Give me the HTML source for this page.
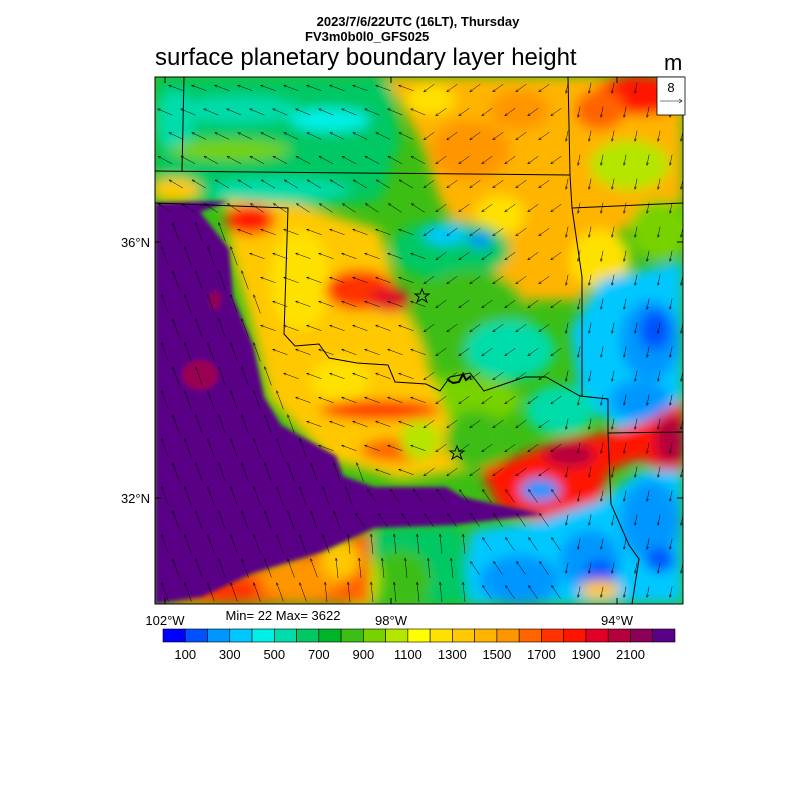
<!DOCTYPE html>
<html><head><meta charset="utf-8"><style>
html,body{margin:0;padding:0;background:#fff;width:800px;height:800px;overflow:hidden}
svg{position:absolute;left:0;top:0}
text{font-family:"Liberation Sans",sans-serif}
</style></head><body>
<svg id="s" width="800" height="800" viewBox="0 0 800 800">
<defs>
<clipPath id="mc"><rect x="155" y="77" width="528" height="527"/></clipPath>
<filter id="bl" x="-10%" y="-10%" width="120%" height="120%"><feGaussianBlur stdDeviation="6"/></filter>
<filter id="bl2"><feGaussianBlur stdDeviation="2"/></filter>
</defs>
<text x="418" y="26" font-size="13" font-weight="bold" text-anchor="middle">2023/7/6/22UTC (16LT), Thursday</text>
<text x="305" y="41" font-size="13" font-weight="bold">FV3m0b0l0_GFS025</text>
<text x="155" y="65" font-size="24">surface planetary boundary layer height</text>
<text x="664" y="70" font-size="22">m</text>
<g clip-path="url(#mc)">
<rect x="155" y="77" width="528" height="527" fill="#3cbe14"/>
<g filter="url(#bl)">
<polygon points="155,77 390,77 400,140 380,200 300,210 155,200" fill="#00c864"/>
<ellipse cx="240" cy="110" rx="60" ry="14" fill="#00dcaa"/>
<ellipse cx="330" cy="120" rx="40" ry="12" fill="#00f0e6"/>
<ellipse cx="280" cy="190" rx="70" ry="12" fill="#00dcaa"/>
<ellipse cx="175" cy="120" rx="20" ry="30" fill="#00dcaa"/>
<ellipse cx="230" cy="150" rx="60" ry="10" fill="#78d200"/>
<ellipse cx="175" cy="190" rx="25" ry="12" fill="#ffc800"/>
<polygon points="385,77 683,77 683,200 620,230 580,300 520,300 470,250 440,200 420,140" fill="#ffb400"/>
<ellipse cx="470" cy="150" rx="40" ry="30" fill="#ff9600"/>
<ellipse cx="640" cy="95" rx="45" ry="20" fill="#ff1400"/>
<ellipse cx="600" cy="110" rx="25" ry="20" fill="#ff6400"/>
<ellipse cx="520" cy="110" rx="30" ry="20" fill="#ff9600"/>
<ellipse cx="430" cy="100" rx="25" ry="15" fill="#ffe100"/>
<ellipse cx="500" cy="215" rx="25" ry="20" fill="#ffe100"/>
<ellipse cx="630" cy="165" rx="40" ry="25" fill="#b4e600"/>
<ellipse cx="660" cy="230" rx="30" ry="30" fill="#78d200"/>
<ellipse cx="600" cy="260" rx="30" ry="30" fill="#ffe100"/>
<ellipse cx="450" cy="250" rx="60" ry="30" fill="#00c864"/>
<ellipse cx="445" cy="235" rx="22" ry="10" fill="#00c8ff"/>
<ellipse cx="480" cy="240" rx="12" ry="8" fill="#0096ff"/>
<ellipse cx="470" cy="320" rx="60" ry="50" fill="#3cbe14"/>
<ellipse cx="510" cy="350" rx="45" ry="30" fill="#00dcaa"/>
<ellipse cx="460" cy="400" rx="60" ry="25" fill="#78d200"/>
<polygon points="225,200 300,205 380,230 400,300 420,340 440,400 470,470 400,480 330,460 270,400 250,320 230,250" fill="#ffc800"/>
<ellipse cx="300" cy="280" rx="30" ry="50" fill="#ffe100"/>
<ellipse cx="360" cy="290" rx="35" ry="20" fill="#ff3200"/>
<ellipse cx="390" cy="300" rx="20" ry="12" fill="#e10028"/>
<ellipse cx="380" cy="410" rx="60" ry="10" fill="#ff3200"/>
<ellipse cx="400" cy="450" rx="40" ry="12" fill="#ff6400"/>
<ellipse cx="420" cy="440" rx="20" ry="20" fill="#b4e600"/>
<ellipse cx="340" cy="380" rx="30" ry="20" fill="#ffe100"/>
<ellipse cx="250" cy="220" rx="25" ry="15" fill="#ff1400"/>
<ellipse cx="475" cy="440" rx="30" ry="30" fill="#3cbe14"/>
<polygon points="600,280 683,260 683,420 620,430 580,400 570,330" fill="#00c8ff"/>
<ellipse cx="650" cy="340" rx="30" ry="40" fill="#0096ff"/>
<ellipse cx="655" cy="330" rx="15" ry="20" fill="#0050ff"/>
<ellipse cx="640" cy="400" rx="30" ry="20" fill="#0096ff"/>
<ellipse cx="560" cy="410" rx="35" ry="25" fill="#00dcaa"/>
<polygon points="480,470 560,440 620,430 650,420 683,400 683,480 640,460 610,470 600,500 580,530 540,520 500,510" fill="#ff1400"/>
<ellipse cx="570" cy="455" rx="25" ry="12" fill="#b4003c"/>
<ellipse cx="670" cy="440" rx="15" ry="25" fill="#b4003c"/>
<polygon points="470,530 540,520 600,500 640,470 683,470 683,604 460,604" fill="#00c8ff"/>
<ellipse cx="520" cy="580" rx="40" ry="25" fill="#0096ff"/>
<ellipse cx="590" cy="560" rx="30" ry="30" fill="#0096ff"/>
<ellipse cx="650" cy="520" rx="30" ry="40" fill="#0096ff"/>
<ellipse cx="600" cy="575" rx="15" ry="15" fill="#0050ff"/>
<ellipse cx="660" cy="560" rx="15" ry="12" fill="#0050ff"/>
<ellipse cx="540" cy="490" rx="20" ry="12" fill="#0096ff"/>
<ellipse cx="600" cy="590" rx="20" ry="10" fill="#ffc800"/>
<polygon points="370,530 460,525 470,604 360,604" fill="#00c864"/>
<ellipse cx="400" cy="580" rx="30" ry="30" fill="#3cbe14"/>
<ellipse cx="360" cy="580" rx="20" ry="30" fill="#b4e600"/>
<polygon points="155,604 250,570 330,545 370,530 370,604" fill="#ff6400"/>
<ellipse cx="300" cy="580" rx="40" ry="20" fill="#ff9600"/>
<ellipse cx="340" cy="560" rx="20" ry="20" fill="#ffc800"/>
<ellipse cx="230" cy="590" rx="30" ry="12" fill="#ff3200"/>
</g>
<g filter="url(#bl2)">
<polygon points="155,203 229,201 200,212 229,249 233,297 253,345 264,397 281,425 336,456 343,476 374,487 446,487 463,497 494,504 543,514 453,525 374,528 322,552 253,573 202,597 155,604" fill="#5a0087"/>
<ellipse cx="200" cy="375" rx="18" ry="15" fill="#b4003c" opacity="0.7"/>
<ellipse cx="215" cy="300" rx="6" ry="10" fill="#b4003c" opacity="0.6"/>
</g>
<g id="arr" stroke="#000" stroke-width="0.5" fill="none"></g>
<g stroke="#000" stroke-width="1" fill="none">
<polyline points="155,171 570,175"/>
<polyline points="184,77 182,171"/>
<polyline points="155,203 288,208 284,334 295,346 319,344 329,358 357,363 388,365 395,382 426,384 440,391 450,377 470,373 484,391 525,377 546,377 580,396 608,399 608,433 611,504 629,545 639,559 632,604"/>
<polyline points="568,77 570,175 572,208 582,277 582,396"/>
<polyline points="608,433 683,432"/>
<polyline points="572,208 683,203"/>
<path d="M448,380 l5,3 l6,-1 l4,-8 l3,6 l5,-4" stroke-width="2"/>
</g>
<g fill="none" stroke="#000" stroke-width="1">
<polygon points="422,289 424,294 429,294 425,297 427,302 422,299 417,302 419,297 415,294 420,294"/>
<polygon points="457,446 459,451 464,451 460,454 462,459 457,456 452,459 454,454 450,451 455,451"/>
</g>
</g>
<rect x="155" y="77" width="528" height="527" fill="none" stroke="#000" stroke-width="1"/>
<rect x="657" y="77" width="28" height="38" fill="#fff" stroke="#000" stroke-width="0.8"/>
<text x="671" y="92" font-size="13" text-anchor="middle">8</text>
<line x1="660" y1="101" x2="682" y2="101" stroke="#000" stroke-width="0.6"/>
<path d="M679,99 L682,101 L679,103" stroke="#000" stroke-width="0.6" fill="none"/>
<g stroke="#000" stroke-width="1">
<line x1="155" y1="242" x2="161" y2="242"/><line x1="155" y1="498" x2="161" y2="498"/>
<line x1="683" y1="242" x2="677" y2="242"/><line x1="683" y1="498" x2="677" y2="498"/>
<line x1="165" y1="604" x2="165" y2="598"/><line x1="391" y1="604" x2="391" y2="598"/><line x1="617" y1="604" x2="617" y2="598"/>
<line x1="165" y1="77" x2="165" y2="83"/><line x1="391" y1="77" x2="391" y2="83"/><line x1="617" y1="77" x2="617" y2="83"/>
</g>
<text x="150" y="247" font-size="13" text-anchor="end">36°N</text>
<text x="150" y="503" font-size="13" text-anchor="end">32°N</text>
<text x="165" y="625" font-size="13" text-anchor="middle">102°W</text>
<text x="391" y="625" font-size="13" text-anchor="middle">98°W</text>
<text x="617" y="625" font-size="13" text-anchor="middle">94°W</text>
<text x="283" y="620" font-size="13" text-anchor="middle">Min= 22 Max= 3622</text>
<g id="cb" stroke="#000" stroke-width="0.6"></g>
<g font-size="13" text-anchor="middle" id="cbl"></g>
</svg>
<script>
var cols=["#0000ff","#0050ff","#0096ff","#00c8ff","#00f0e6","#00dcaa","#00c864","#00b428","#3cbe14","#78d200","#b4e600","#ffff00","#ffe100","#ffc800","#ffb400","#ff9600","#ff6400","#ff3200","#ff1400","#e10028","#b4003c","#8c005a","#5a0087"];
var ns="http://www.w3.org/2000/svg",cb=document.getElementById('cb'),cbl=document.getElementById('cbl');
var x0=163,w=(675-163)/23;
cols.forEach(function(c,i){var r=document.createElementNS(ns,'rect');r.setAttribute('x',x0+i*w);r.setAttribute('y',629);r.setAttribute('width',w);r.setAttribute('height',13);r.setAttribute('fill',c);cb.appendChild(r);});
var labs=[100,300,500,700,900,1100,1300,1500,1700,1900,2100];
labs.forEach(function(l,i){var t=document.createElementNS(ns,'text');t.setAttribute('x',x0+(2*i+1)*w);t.setAttribute('y',659);t.textContent=l;cbl.appendChild(t);});
var g=document.getElementById('arr'),d='';
function inPurple(x,y){return (y>205 && x<155+(y-205)*0.33+70 && y<560)|| (y>450&&y<600&&x<300+(600-y)*0.6&&x<470) ;}
for(var y=88;y<604;y+=24){for(var x=165+((y/24|0)%2)*11;x<683;x+=23){
 var a,L=14;
 if(x<420&&y<230){a=Math.PI*1.15+ (y-150)*0.002;L=16;}
 else if(inPurple(x,y)){a=-Math.PI/2-0.35;L=20;}
 else if(y>530&&x<470){a=-Math.PI/2-0.1;L=20;}
 else if(x<420&&y<480){a=Math.PI+0.35;L=16;}
 else if(x>560){a=Math.PI/2+0.2;L=11;}
 else if(y>480){a=-Math.PI/2-0.6;L=16;}
 else {a=Math.PI*0.8;L=13;}
 var dx=Math.cos(a)*L,dy=Math.sin(a)*L;
 var ex=x+dx/2,ey=y+dy/2,sx=x-dx/2,sy=y-dy/2;
 var h=3,b1=a+Math.PI-0.4,b2=a+Math.PI+0.4;
 d+='M'+sx.toFixed(1)+','+sy.toFixed(1)+'L'+ex.toFixed(1)+','+ey.toFixed(1)+'M'+(ex+Math.cos(b1)*h).toFixed(1)+','+(ey+Math.sin(b1)*h).toFixed(1)+'L'+ex.toFixed(1)+','+ey.toFixed(1)+'L'+(ex+Math.cos(b2)*h).toFixed(1)+','+(ey+Math.sin(b2)*h).toFixed(1);
}}
var p=document.createElementNS(ns,'path');p.setAttribute('d',d);g.appendChild(p);
</script>
</body></html>
